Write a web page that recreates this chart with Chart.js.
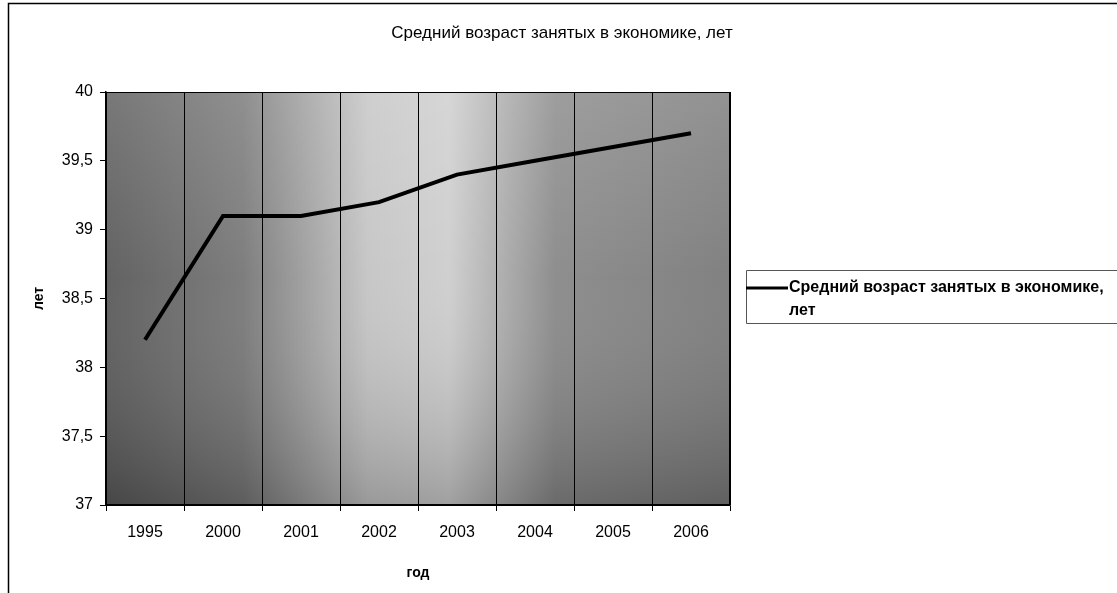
<!DOCTYPE html>
<html><head><meta charset="utf-8">
<style>html,body{margin:0;padding:0;background:#fff}#wrap{width:1117px;height:593px;position:relative}</style>
<script src="https://cdn.jsdelivr.net/npm/chart.js@4"></script>
</head><body>
<div id="wrap"><canvas id="c" width="1117" height="593"></canvas></div>
<script>
const chartTitle = 'Средний возраст занятых в экономике, лет';
const seriesLabel = ['Средний возраст занятых в экономике,', 'лет'];
const years = ['1995', '2000', '2001', '2002', '2003', '2004', '2005', '2006'];
const ageValues = [38.2, 39.1, 39.1, 39.2, 39.4, 39.5, 39.6, 39.7];
const yMin = 37, yMax = 40, yStep = 0.5;
const xAxisTitle = 'год';
const yAxisTitle = 'лет';

const FONT = "'Liberation Sans', Arial, sans-serif";

const decor = {
  id: 'decor',
  beforeDraw(chart) {
    const {ctx, chartArea: a} = chart;
    const w = a.right - a.left, h = a.bottom - a.top;
    ctx.save();
    const g = ctx.createLinearGradient(a.left, 0, a.right, 0);
    g.addColorStop(0, '#5a5a5a');
    g.addColorStop(0.22, '#777777');
    g.addColorStop(0.42, '#c4c4c4');
    g.addColorStop(0.55, '#cdcdcd');
    g.addColorStop(0.72, '#888888');
    g.addColorStop(1, '#7a7a7a');
    ctx.fillStyle = g;
    ctx.fillRect(a.left, a.top, w, h);
    const v = ctx.createLinearGradient(0, a.top, 0, a.bottom);
    v.addColorStop(0, 'rgba(255,255,255,0.18)');
    v.addColorStop(0.45, 'rgba(255,255,255,0.05)');
    v.addColorStop(1, 'rgba(0,0,0,0.22)');
    ctx.fillStyle = v;
    ctx.fillRect(a.left, a.top, w, h);
    ctx.restore();
  },
  afterDraw(chart) {
    const {ctx, chartArea: a} = chart;
    ctx.save();
    // outer frame
    ctx.strokeStyle = '#000';
    ctx.lineWidth = 1.5;
    ctx.beginPath();
    ctx.moveTo(8.5, 593);
    ctx.lineTo(8.5, 3.5);
    ctx.lineTo(1117, 3.5);
    ctx.stroke();
    // plot border
    ctx.lineWidth = 1;
    ctx.strokeRect(a.left + 0.5, a.top + 0.5, a.right - a.left - 1, a.bottom - a.top);
    // title
    ctx.fillStyle = '#000';
    ctx.font = '17px ' + FONT;
    ctx.textAlign = 'center';
    ctx.textBaseline = 'middle';
    ctx.fillText(chartTitle, 562, 33);
    // legend
    const lx = a.right + 16, ly = 270, lh = 53;
    ctx.strokeStyle = '#555';
    ctx.lineWidth = 1;
    ctx.beginPath();
    ctx.moveTo(1117, ly + 0.5);
    ctx.lineTo(lx + 0.5, ly + 0.5);
    ctx.lineTo(lx + 0.5, ly + lh + 0.5);
    ctx.lineTo(1117, ly + lh + 0.5);
    ctx.stroke();
    const ds = chart.data.datasets[0];
    ctx.strokeStyle = ds.borderColor;
    ctx.lineWidth = 3;
    ctx.beginPath();
    ctx.moveTo(lx, ly + 18);
    ctx.lineTo(lx + 42, ly + 18);
    ctx.stroke();
    ctx.fillStyle = '#000';
    ctx.font = 'bold 16px ' + FONT;
    ctx.textAlign = 'left';
    ctx.textBaseline = 'middle';
    ctx.fillText(seriesLabel[0], lx + 43, ly + 18);
    ctx.fillText(seriesLabel[1], lx + 43, ly + 41);
    ctx.restore();
  }
};

new Chart(document.getElementById('c'), {
  type: 'line',
  data: {
    labels: years,
    datasets: [{
      label: seriesLabel.join(' '),
      data: ageValues,
      borderColor: '#000',
      borderWidth: 4,
      pointRadius: 0,
      tension: 0,
      fill: false
    }]
  },
  options: {
    responsive: false,
    animation: false,
    devicePixelRatio: 1,
    layout: {padding: {top: 92, right: 387, bottom: 0, left: 0}},
    plugins: {legend: {display: false}, title: {display: false}, tooltip: {enabled: false}},
    scales: {
      x: {
        offset: true,
        grid: {offset: true, color: '#000', lineWidth: 1, tickLength: 6, drawOnChartArea: true},
        border: {color: '#000', width: 1.5},
        ticks: {color: '#000', font: {family: FONT, size: 16}, padding: 12, maxRotation: 0},
        title: {display: true, text: xAxisTitle, color: '#000', font: {family: FONT, size: 14, weight: 'bold'}, padding: {top: 0, bottom: 11}},
        afterFit(s) { s.height = 88; }
      },
      y: {
        min: yMin, max: yMax,
        ticks: {stepSize: yStep, color: '#000', font: {family: FONT, size: 16}, padding: 7,
          callback: v => String(v).replace('.', ',')},
        grid: {drawOnChartArea: false, color: '#000', tickLength: 6},
        border: {color: '#000', width: 1.5},
        title: {display: true, text: yAxisTitle, color: '#000', font: {family: FONT, size: 14, weight: 'bold'}, padding: {top: 31, bottom: 0}},
        afterFit(s) { s.width = 106; }
      }
    }
  },
  plugins: [decor]
});
</script>
</body></html>
